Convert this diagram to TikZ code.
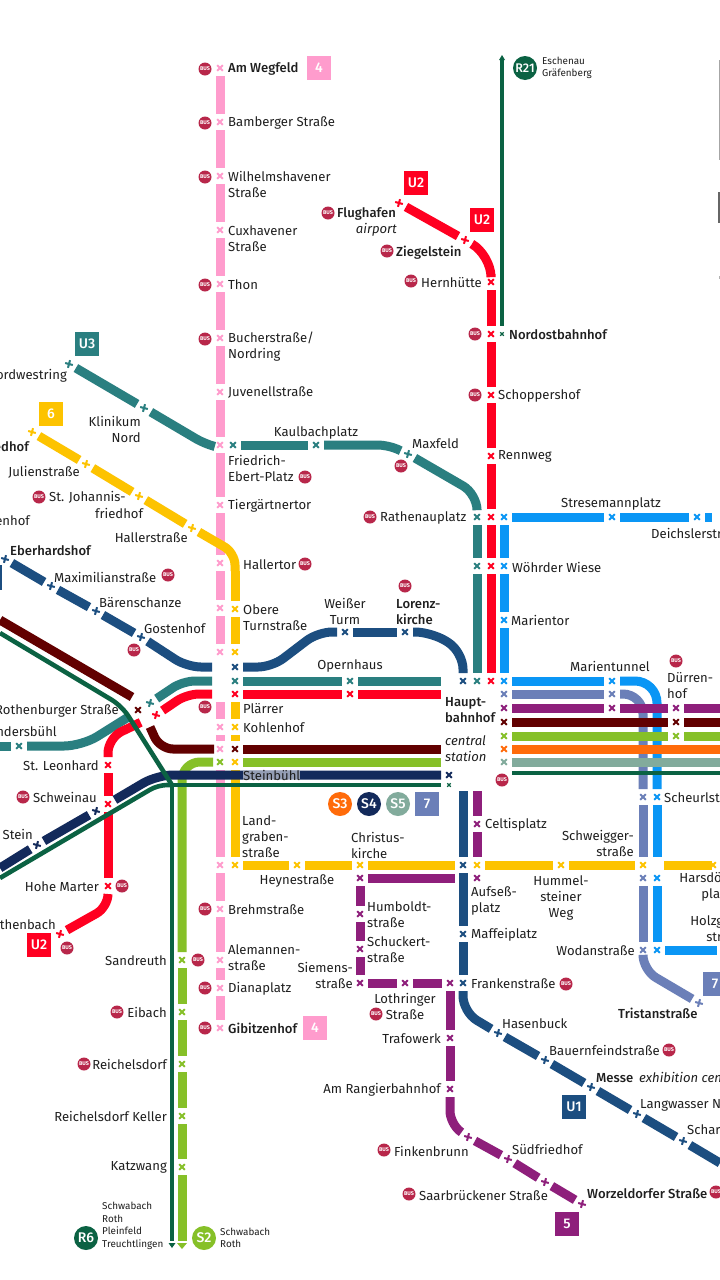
\documentclass[tikz,border=0pt]{standalone}
\usepackage{fontspec}
\setmainfont{Fira Sans}
\newfontfamily\med{Fira Sans Medium}
\usetikzlibrary{shapes.misc}
\definecolor{pinkc}{HTML}{FF9CCD}
\definecolor{yelc}{HTML}{FDC300}
\definecolor{tealc}{HTML}{2A7F80}
\definecolor{redc}{HTML}{FF0021}
\definecolor{bluec}{HTML}{0A96F5}
\definecolor{perc}{HTML}{6B7FB8}
\definecolor{purc}{HTML}{8E1F7B}
\definecolor{marc}{HTML}{620000}
\definecolor{limc}{HTML}{86C028}
\definecolor{orac}{HTML}{FF6B0A}
\definecolor{sagc}{HTML}{82AB9C}
\definecolor{navc}{HTML}{132A5B}
\definecolor{u1c}{HTML}{1C4E80}
\definecolor{grnc}{HTML}{0B6243}
\definecolor{busc}{HTML}{B8274A}
\newcounter{lc}
\tikzset{
  stn/.style={cross out,line width=2pt,minimum size=5.6pt,inner sep=0pt,outer sep=0pt},
  ln/.style={line width=9pt,shorten <=8pt,shorten >=8pt},
  fs/.style={shorten <=0pt},
  fe/.style={shorten >=0pt},
  lbl/.style={font=\fontsize{13.1}{16.2}\selectfont,inner sep=0pt,text=black!88,yshift=-0.7pt},
  sml/.style={font=\fontsize{9.9}{12.6}\selectfont,inner sep=0pt,align=left,anchor=west,text=black!88},
  badge/.style={rectangle,minimum size=24pt,inner sep=0pt,text=white,font=\fontsize{14}{14}\med},
  rnd/.style={circle,minimum size=24pt,inner sep=0pt,text=white,font=\fontsize{14}{14}\med},
  busn/.style={circle,fill=busc,minimum size=13pt,inner sep=0pt,text=white,font=\fontsize{5.4}{5.4}\bfseries},
  pk/.style={ln,draw=pinkc},ye/.style={ln,draw=yelc},te/.style={ln,draw=tealc},
  rd/.style={ln,draw=redc},bl/.style={ln,draw=bluec},pe/.style={ln,draw=perc},
  pu/.style={ln,draw=purc},ma/.style={ln,draw=marc},li/.style={ln,draw=limc},
  or/.style={ln,draw=orac},sa/.style={ln,draw=sagc},na/.style={ln,draw=navc},
  uo/.style={ln,draw=u1c},
  gr/.style={line width=4.6pt,draw=grnc},
}
\newcommand{\st}[5][]{\node[stn,draw=#5,#1] (#2) at (#3,#4) {};}
\newcommand{\lk}[3]{\draw[#1] (#2.center) -- (#3.center);}
\newcommand{\lw}[4][]{\stepcounter{lc}\node[lbl,anchor=west,align=left,#1] (L\thelc) at (#2,#3) {#4};}
\newcommand{\lE}[4][]{\stepcounter{lc}\node[lbl,anchor=east,align=right,#1] (L\thelc) at (#2,#3) {#4};}
\newcommand{\lC}[4][]{\stepcounter{lc}\node[lbl,anchor=center,align=center,#1] (L\thelc) at (#2,#3) {#4};}
\newcommand{\bus}[2]{\stepcounter{lc}\node[busn] (B\thelc) at (#1,#2) {BUS};}
\begin{document}
\begin{tikzpicture}[x=1pt,y=-1pt]
\useasboundingbox (0,0) rectangle (720,1280);
\clip (0,0) rectangle (720,1280);
\fill[white] (0,0) rectangle (720,1280);

% ---- stations
\foreach \n/\y in {p1/68,p2/122,p3/176,p4/230,p5/284,p6/338,p7/392,p8/445,p9/505,p10/563,p11/608,p12/652,p13/727,p14/749,p15/865,p16/909,p17/960,p18/988,p19/1028}{\st{\n}{220}{\y}{pinkc}}
\st[rotate=30]{y1}{32}{432}{yelc}\st[rotate=30]{y2}{86}{464}{yelc}\st[rotate=30]{y3}{139}{496}{yelc}\st[rotate=30]{y4}{192}{528}{yelc}
\foreach \n/\y in {y5/563,y6/609,y7/652,y8/727,y9/762,y10/865}{\st{\n}{235}{\y}{yelc}}
\foreach \n/\x in {y11/297,y12/360,y13/477,y14/561,y15/643,y16/713}{\st{\n}{\x}{865}{yelc}}
\st[rotate=30]{t1}{69}{364}{tealc}\st[rotate=30]{t2}{144}{408}{tealc}\st{t3}{233}{445}{tealc}\st{t4}{316}{445}{tealc}
\st[rotate=30]{t5}{408}{454}{tealc}\st{t6}{477}{517}{tealc}\st{t7}{477}{566}{tealc}\st{t8}{477}{681}{tealc}
\st{t0}{19}{746}{tealc}\st[rotate=30]{tr}{150}{703}{tealc}\st{t9}{235}{681}{tealc}\st{t10}{350}{681}{tealc}
\st[rotate=30]{r1}{60}{934}{redc}\st{r2}{108}{886}{redc}\st{r3}{108}{804}{redc}\st{r4}{108}{765}{redc}
\st[rotate=30]{r5}{156}{715}{redc}\st{r6}{235}{694}{redc}\st{r7}{350}{694}{redc}
\st{r8}{491}{681}{redc}\st{r9}{491}{566}{redc}\st{r10}{491}{517}{redc}\st{r11}{491}{456}{redc}\st{r12}{491}{395}{redc}\st{r13}{491}{334}{redc}\st{r14}{491}{282}{redc}
\st[rotate=30]{r15}{465}{240}{redc}\st[rotate=30]{r16}{399}{203}{redc}
\foreach \n/\y in {b0/517,b1/566,b2/620,b3/681}{\st{\n}{504}{\y}{bluec}}
\st{b8}{612}{517}{bluec}\st{b9}{697}{517}{bluec}
\st{b4}{612}{681}{bluec}\st{b5}{657}{797}{bluec}\st{b6}{657}{878}{bluec}\st{b7}{657}{950}{bluec}
\st{w1}{504}{694}{perc}\st{w2}{612}{694}{perc}\st{w3}{643}{797}{perc}\st{w4}{643}{878}{perc}\st{w5}{643}{950}{perc}\st[rotate=30]{w6}{699}{1003}{perc}
\st{q1}{504}{708}{purc}\st{q2}{612}{708}{purc}\st{q3}{676}{708}{purc}
\st{q4}{477}{824}{purc}\st{q5}{477}{878}{purc}\st{q6}{360}{878}{purc}\st{q7}{360}{914}{purc}\st{q8}{360}{949}{purc}\st{q9}{360}{983}{purc}
\st{q10}{405}{983}{purc}\st{q11}{450}{983}{purc}\st{q12}{450}{1038}{purc}\st{q13}{450}{1089}{purc}
\st[rotate=30]{q14}{468}{1137}{purc}\st[rotate=30]{q15}{508}{1159}{purc}\st[rotate=30]{q16}{545}{1182}{purc}\st[rotate=30]{q17}{582}{1204}{purc}
\st{m0}{138}{710}{marc}\st{m1}{504}{722}{marc}\st{m2}{676}{722}{marc}\st{m3}{235}{749}{marc}
\st{l1}{220}{762}{limc}\st{l3}{504}{736}{limc}\st{l4}{676}{736}{limc}
\foreach \n/\y in {la/960,lb/1012,lc/1064,ld/1116,le/1167}{\st{\n}{182}{\y}{limc}}
\st{o1}{504}{749}{orac}
\st{s1}{504}{762}{sagc}
\st{n1}{449}{775}{navc}\st[rotate=30]{n2}{96}{811}{navc}\st[rotate=30]{n3}{37}{845}{navc}
\st[minimum size=3.5pt,line width=1.2pt]{g0}{449}{785}{grnc}
\st[minimum size=3.5pt,line width=1.2pt]{g1}{502}{334}{grnc}
\st[rotate=30]{u1}{5}{559}{u1c}\st[rotate=30]{u2}{51}{586}{u1c}\st[rotate=30]{u3}{96}{611}{u1c}\st[rotate=30]{u4}{141}{637}{u1c}
\st{u5}{235}{667}{u1c}\st{u6}{345}{632}{u1c}\st{u7}{405}{632}{u1c}\st{u8}{463}{681}{u1c}
\st{u9}{463}{865}{u1c}\st{u10}{463}{934}{u1c}\st{u11}{463}{983}{u1c}
\st[rotate=30]{u12}{498}{1033}{u1c}\st[rotate=30]{u13}{545}{1060}{u1c}\st[rotate=30]{u14}{591}{1087}{u1c}\st[rotate=30]{u15}{637}{1114}{u1c}\st[rotate=30]{u16}{683}{1141}{u1c}

% ---- free ends
\coordinate (pA) at (220,702);
\coordinate (yA) at (235,702); \coordinate (yB) at (235,741);
\coordinate (yE) at (720,865);
\coordinate (tA) at (213,446); \coordinate (tB) at (0,746); \coordinate (tC) at (130,716); \coordinate (tD) at (441,681);
\coordinate (rA) at (441,694);
\coordinate (bA) at (720,517); \coordinate (bB) at (657,857); \coordinate (bC) at (717,950);
\coordinate (wA) at (643,857);
\coordinate (qA) at (720,708); \coordinate (qB) at (477,791); \coordinate (qC) at (477,857); \coordinate (qD) at (455,878);
\coordinate (mA) at (0,620); \coordinate (mB) at (132,697); \coordinate (mC) at (150,727); \coordinate (mD) at (214,749); \coordinate (mE) at (441,749); \coordinate (mF) at (720,722);
\coordinate (lA) at (213,762); \coordinate (lB) at (182,1241); \coordinate (lC) at (441,762); \coordinate (lD) at (720,736);
\coordinate (oA) at (720,749);
\coordinate (sA) at (720,762);
\coordinate (nA) at (0,868);
\coordinate (gJ) at (172,785); \coordinate (gA) at (0,878); \coordinate (gB) at (0,633); \coordinate (gC) at (172,1241); \coordinate (gD) at (512,773); \coordinate (gE) at (720,773); \coordinate (gF) at (502,58);
\coordinate (uA) at (463,791); \coordinate (uB) at (720,1163);

% ---- pink
\lk{pk}{p1}{p2}\lk{pk}{p2}{p3}\lk{pk}{p3}{p4}\lk{pk}{p4}{p5}\lk{pk}{p5}{p6}\lk{pk}{p6}{p7}\lk{pk}{p7}{p8}\lk{pk}{p8}{p9}\lk{pk}{p9}{p10}\lk{pk}{p10}{p11}\lk{pk}{p11}{p12}
\draw[pk,fs] (pA) -- (p13.center);
\lk{pk}{p13}{p14}\lk{pk}{l1}{p15}\lk{pk}{p15}{p16}\lk{pk}{p16}{p17}\lk{pk}{p17}{p18}\lk{pk}{p18}{p19}
% ---- yellow
\lk{ye}{y1}{y2}\lk{ye}{y2}{y3}\lk{ye}{y3}{y4}
\draw[ye,rounded corners=12pt] (y4.center) -- (235,553) -- (y5.center);
\lk{ye}{y5}{y6}\lk{ye}{y6}{y7}
\draw[ye,fs] (yA) -- (y8.center);
\draw[ye,fe] (y8.center) -- (yB);
\lk{ye}{y9}{y10}\lk{ye}{y10}{y11}\lk{ye}{y11}{y12}
\lk{ye}{y12}{u9}\lk{ye}{y13}{y14}\lk{ye}{y14}{y15}
\draw[ye,shorten <=21pt] (y15.center) -- (y16.center);
\draw[ye] (y16.center) -- (yE);
% ---- teal
\lk{te}{t1}{t2}
\draw[te,fe,rounded corners=10pt] (t2.center) -- (205,444) -- (tA);
\lk{te}{t3}{t4}
\draw[te,rounded corners=10pt] (t4.center) -- (388,445) -- (t5.center);
\draw[te,rounded corners=16pt] (t5.center) -- (477,494) -- (t6.center);
\lk{te}{t6}{t7}\lk{te}{t7}{t8}
\draw[te,fs,shorten >=8pt] (tB) -- (t0.center);
\draw[te,fe,rounded corners=18pt] (t0.center) -- (82,746) -- (tC);
\draw[te,shorten >=23pt,rounded corners=12pt] (tr.center) -- (183,681) -- (t9.center);
\lk{te}{t9}{t10}
\draw[te,fe] (t10.center) -- (tD);
% ---- red
\draw[rd,rounded corners=13pt] (r1.center) -- (108,907) -- (r2.center);
\lk{rd}{r2}{r3}\lk{rd}{r3}{r4}
\draw[rd,shorten >=17pt,rounded corners=15pt] (r4.center) -- (108,738) -- (r5.center);
\draw[rd,shorten >=23pt,rounded corners=12pt] (r5.center) -- (187,694) -- (r6.center);
\lk{rd}{r6}{r7}
\draw[rd,fe] (r7.center) -- (rA);
\lk{rd}{r8}{r9}\lk{rd}{r9}{r10}\lk{rd}{r10}{r11}\lk{rd}{r11}{r12}\lk{rd}{r12}{r13}\lk{rd}{r13}{r14}
\draw[rd,rounded corners=22pt] (r14.center) -- (491,255) -- (r15.center);
\lk{rd}{r15}{r16}
% ---- light blue, periwinkle (verticals below the rows)
\lk{bl}{b0}{b1}\lk{bl}{b1}{b2}\lk{bl}{b2}{b3}
\lk{bl}{b0}{b8}\lk{bl}{b8}{b9}\draw[bl] (b9.center) -- (bA);
\lk{bl}{b3}{b4}
\draw[bl,rounded corners=22pt] (b4.center) -- (657,681) -- (b5.center);
\draw[bl,fe] (b5.center) -- (bB);
\lk{bl}{b6}{b7}
\draw[bl,fe] (b7.center) -- (bC);
\lk{pe}{w1}{w2}
\draw[pe,rounded corners=20pt] (w2.center) -- (643,694) -- (w3.center);
\draw[pe,fe] (w3.center) -- (wA);
\lk{pe}{w4}{w5}
\draw[pe,rounded corners=15pt] (w5.center) -- (643,970) -- (w6.center);
% ---- U1 blue
\lk{uo}{u1}{u2}\lk{uo}{u2}{u3}\lk{uo}{u3}{u4}
\draw[uo,shorten >=23pt,rounded corners=14pt] (u4.center) -- (187,667) -- (u5.center);
\draw[uo,rounded corners=14pt] (u5.center) -- (272,667) -- (318,632) -- (u6.center);
\lk{uo}{u6}{u7}
\draw[uo,rounded corners=17pt] (u7.center) -- (432,632) -- (463,652) -- (u8.center);
\draw[uo,fs] (uA) -- (u9.center);
\lk{uo}{u9}{u10}\lk{uo}{u10}{u11}
\draw[uo,rounded corners=16pt] (u11.center) -- (463,1012) -- (u12.center);
\lk{uo}{u12}{u13}\lk{uo}{u13}{u14}\lk{uo}{u14}{u15}\lk{uo}{u15}{u16}
\draw[uo,fe] (u16.center) -- (uB);
% ---- purple
\lk{pu}{q1}{q2}\lk{pu}{q2}{q3}\draw[pu,fe] (q3.center) -- (qA);
\draw[pu,fs] (qB) -- (q4.center);\draw[pu,fe] (q4.center) -- (qC);
\draw[pu,fe] (q6.center) -- (qD);
\lk{pu}{q6}{q7}\lk{pu}{q7}{q8}\lk{pu}{q8}{q9}\lk{pu}{q9}{q10}\lk{pu}{q10}{q11}\lk{pu}{q11}{q12}\lk{pu}{q12}{q13}
\draw[pu,rounded corners=13pt] (q13.center) -- (450,1124) -- (q14.center);
\lk{pu}{q14}{q15}\lk{pu}{q15}{q16}\lk{pu}{q16}{q17}
% ---- maroon
\lk{ma}{m1}{m2}\draw[ma,fe] (m2.center) -- (mF);
\draw[ma,fs,fe] (mA) -- (mB);
\draw[ma,fs,fe,rounded corners=13pt] (mC) -- (160,749) -- (mD);
\draw[ma,fe] (m3.center) -- (mE);
% ---- lime
\draw[li,fs,rounded corners=18pt] (lA) -- (182,762) -- (la.center);
\lk{li}{la}{lb}\lk{li}{lb}{lc}\lk{li}{lc}{ld}\lk{li}{ld}{le}
\draw[li,fe] (le.center) -- (lB);
\draw[li,fe] (y9.center) -- (lC);
\lk{li}{l3}{l4}\draw[li,fe] (l4.center) -- (lD);
\fill[limc] (177,1243) -- (187,1243) -- (182,1249) -- cycle;
% ---- orange, sage
\draw[or,fe] (o1.center) -- (oA);
\draw[sa,fe] (s1.center) -- (sA);
% ---- navy
\draw[na,shorten >=22pt,rounded corners=16pt] (n1.center) -- (157,775) -- (n2.center);
\lk{na}{n2}{n3}
\draw[na,fe] (n3.center) -- (nA);
% ---- green
\draw[gr] (gD) -- (gE);
\draw[gr,shorten <=8pt] (g0.center) -- (gJ);
\draw[gr] (gJ) -- (gC);
\draw[gr,rounded corners=9pt] (gA) -- (158,785) -- (gJ);
\draw[gr,rounded corners=12pt] (gB) -- (122,706) -- (gJ);
\draw[gr,shorten >=8pt] (gF) -- (g1.center);
\fill[grnc] (168.5,1243) -- (175.5,1243) -- (172,1248) -- cycle;
\fill[grnc] (499,60) -- (505,60) -- (502,55) -- cycle;

% ---- off-canvas remnants at the edges
\fill[u1c] (-20,565) rectangle (2,590);
\fill[black!35] (719,60) rectangle (720,160);
\fill[black!60] (718,192) rectangle (720,223);
\fill[black!30] (719,276) rectangle (720,279);

% ---- badges
\node[badge,fill=pinkc] (bx4a) at (319,68) {4};
\node[badge,fill=pinkc] (bx4b) at (315,1028) {4};
\node[badge,fill=redc] (bxu2a) at (416,183) {U2};
\node[badge,fill=redc] (bxu2b) at (482,220) {U2};
\node[badge,fill=redc] (bxu2c) at (39,945) {U2};
\node[badge,fill=tealc] (bxu3) at (87,344) {U3};
\node[badge,fill=yelc] (bx6) at (51,414) {6};
\node[badge,fill=u1c] (bxu1) at (574,1107) {U1};
\node[badge,fill=purc] (bx5) at (567,1224) {5};
\node[badge,fill=perc] (bx7a) at (427,804) {7};
\node[badge,fill=perc] (bx7b) at (715,984) {7};
\node[rnd,fill=orac] (rs3) at (340,804) {S3};
\node[rnd,fill=navc] (rs4) at (369,804) {S4};
\node[rnd,fill=sagc] (rs5) at (398,804) {S5};
\node[rnd,fill=grnc,font=\fontsize{12.5}{12.5}\med] (rr21) at (525,68) {R21};
\node[rnd,fill=grnc] (rr6) at (86,1238) {R6};
\node[rnd,fill=limc] (rs2) at (204,1238) {S2};
\node[sml] (tr21) at (542,68) {Eschenau\\Gräfenberg};
\node[sml] (tr6) at (102,1226) {Schwabach\\Roth\\Pleinfeld\\Treuchtlingen};
\node[sml] (ts2) at (220,1238) {Schwabach\\Roth};

% ---- labels
\lw{228}{68}{\med Am Wegfeld}\bus{205}{69}
\lw{228}{122}{Bamberger Straße}\bus{205}{123}
\lw{228}{184}{Wilhelmshavener\\Straße}\bus{205}{177}
\lw{228}{238}{Cuxhavener\\Straße}
\lw{228}{284}{Thon}\bus{205}{285}
\lw{228}{346}{Bucherstraße/\\Nordring}\bus{205}{339}
\lw{228}{392}{Juvenellstraße}
\lw{228}{468}{Friedrich-\\Ebert-Platz}\bus{305}{477}
\lw{228}{505}{Tiergärtnertor}
\lw{243}{564}{Hallertor}\bus{305}{564}
\lw{243}{617}{Obere\\Turnstraße}
\lw{243}{708}{Plärrer}\bus{205}{707}
\lw{243}{727}{Kohlenhof}
\node[lbl,anchor=west,fill=white,fill opacity=.55,text opacity=1] (Lstein) at (243,775) {Steinbühl};
\lw{242}{836}{Land-\\graben-\\straße}
\lC{297}{880}{Heynestraße}
\lw{351}{845}{Christus-\\kirche}
\lw{367}{914}{Humboldt-\\straße}
\lw{367}{949}{Schuckert-\\straße}
\lE{353}{975}{Siemens-\\straße}
\lC{405}{1006}{Lothringer\\Straße}\bus{376}{1014}
\lE{441}{1038}{Trafowerk}
\lE{441}{1089}{Am Rangierbahnhof}
\lw{394}{1151}{Finkenbrunn}\bus{384}{1150}
\lw{419}{1195}{Saarbrückener Straße}\bus{409}{1194}
\lw{512}{1149}{Südfriedhof}
\lw{587}{1193}{\med Worzeldorfer Straße}\bus{716}{1192}
\lw{502}{1023}{Hasenbuck}
\lw{549}{1050}{Bauernfeindstraße}\bus{669}{1050}
\lw{596}{1077}{\med Messe}
\lw{639}{1077}{\itshape exhibition centre}
\lw{640}{1104}{Langwasser Nord}
\lw{687}{1130}{Scharfreiterring}
\lw{471}{983}{Frankenstraße}\bus{566}{984}
\lw{471}{934}{Maffeiplatz}
\lw{471}{900}{Aufseß-\\platz}
\lw{485}{824}{Celtisplatz}
\lC{561}{897}{Hummel-\\steiner\\Weg}
\lE{634}{843}{Schweigger-\\straße}
\lC{716}{886}{Harsdörffer-\\platz}
\lC{725}{928}{Holzgarten-\\straße}
\lE{635}{950}{Wodanstraße}
\lw{618}{1013}{\med Tristanstraße}
\lw{664}{797}{Scheurlstraße}
\lw{570}{666}{Marientunnel}
\lw{667}{685}{Dürren-\\hof}\bus{676}{661}
\lw{445}{709}{\med Haupt-\\\med bahnhof}
\lw{445}{748}{\itshape central\\\itshape station}
\bus{502}{780}
\lw{380}{517}{Rathenauplatz}\bus{370}{517}
\lw{512}{567}{Wöhrder Wiese}
\lw{511}{620}{Marientor}
\lC{611}{503}{Stresemannplatz}
\lw{651}{533}{Deichslerstraße}
\lw{498}{456}{Rennweg}
\lw{498}{395}{Schoppershof}\bus{475}{395}
\lw{509}{334}{\med Nordostbahnhof}\bus{475}{334}
\lw{421}{282}{Hernhütte}\bus{411}{281}
\lw{396}{252}{\med Ziegelstein}\bus{387}{251}
\lw{337}{213}{\med Flughafen}\bus{328}{213}
\lE{397}{229}{\itshape airport}
\lw{412}{443}{Maxfeld}\bus{401}{466}
\lC{316}{432}{Kaulbachplatz}
\lw{396}{611}{\med Lorenz-\\\med kirche}\bus{405}{586}
\lC{345}{611}{Weißer\\Turm}
\lC{350}{665}{Opernhaus}
\lE{119}{710}{Rothenburger Straße}
\lE{57}{731}{Sündersbühl}
\lE{99}{765}{St. Leonhard}
\lE{97}{797}{Schweinau}\bus{23}{797}
\lE{33}{834}{Stein}
\lE{99}{886}{Hohe Marter}\bus{122}{886}
\lE{56}{924}{Röthenbach}\bus{67}{948}
\lw{144}{628}{Gostenhof}\bus{134}{650}
\lw{99}{602}{Bärenschanze}
\lw{54}{577}{Maximilianstraße}\bus{168}{575}
\lw{10}{550}{\med Eberhardshof}
\lE{188}{537}{Hallerstraße}
\lw{49}{497}{St. Johannis-}\bus{39}{497}
\lw{95}{513}{friedhof}
\lE{80}{472}{Julienstraße}
\lE{29}{446}{\med Westfriedhof}
\lE{30}{521}{Muggenhof}
\lE{141}{429}{Klinikum\\Nord}
\lE{67}{375}{Nordwestring}
\lE{167}{960}{Sandreuth}\bus{198}{960}
\lE{167}{1012}{Eibach}\bus{117}{1012}
\lE{167}{1064}{Reichelsdorf}\bus{84}{1064}
\lE{167}{1116}{Reichelsdorf Keller}
\lE{167}{1167}{Katzwang}
\lw{228}{909}{Brehmstraße}\bus{205}{909}
\lw{228}{957}{Alemannen-\\straße}
\lw{228}{988}{Dianaplatz}\bus{205}{988}
\lw{228}{1028}{\med Gibitzenhof}\bus{205}{1028}
\end{tikzpicture}
\end{document}
